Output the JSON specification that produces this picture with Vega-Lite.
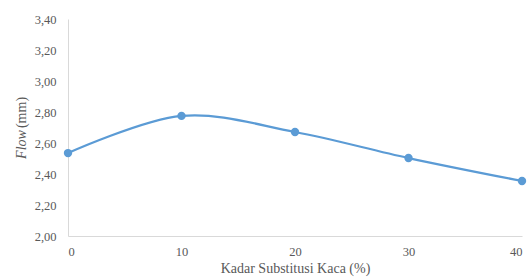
{
  "$schema": "https://vega.github.io/schema/vega-lite/v6.json",
  "autosize": "none",
  "width": 454,
  "height": 217,
  "padding": {"left": 68, "top": 19, "right": 7, "bottom": 41},
  "background": "white",
  "config": {"view": {"stroke": null}, "font": "Liberation Serif", "axis": {"labelFont": "Liberation Serif", "titleFont": "Liberation Serif"}},
  "data": {"values": [
    {"kadar": 0, "flow": 2.535},
    {"kadar": 10, "flow": 2.775},
    {"kadar": 20, "flow": 2.671},
    {"kadar": 30, "flow": 2.503},
    {"kadar": 40, "flow": 2.355}
  ]},
  "resolve": {"scale": {"y": "shared"}, "axis": {"y": "independent"}},
  "layer": [
    {
      "mark": {"type": "line", "interpolate": "cardinal", "color": "#5B9BD5", "strokeWidth": 2.25},
      "encoding": {
        "x": {"field": "kadar", "type": "quantitative",
          "scale": {"domain": [0, 40], "nice": false},
          "axis": {"values": [0, 10, 20, 30, 40], "title": "Kadar Substitusi Kaca (%)", "grid": false, "ticks": false,
            "domainColor": "#D9D9D9", "labelColor": "#595959", "labelFontSize": 12.5, "labelPadding": 9,
            "titleColor": "#595959", "titleFontSize": 14, "titleFontWeight": "normal", "titlePadding": 4}},
        "y": {"field": "flow", "type": "quantitative",
          "scale": {"domain": [2.0, 3.4], "nice": false, "zero": false},
          "axis": {"values": [2.0, 2.2, 2.4, 2.6, 2.8, 3.0, 3.2, 3.4], "labelExpr": "replace(format(datum.value, '.2f'), '.', ',')",
            "title": "(mm)", "grid": false, "ticks": false,
            "domainColor": "#D9D9D9", "labelColor": "#595959", "labelFontSize": 12.5, "labelPadding": 12,
            "titleColor": "#595959", "titleFontSize": 14, "titleFontWeight": "normal",
            "titleX": -47, "titleY": 93, "titleBaseline": "middle", "titleAngle": 270, "titleAlign": "center"}}
      }
    },
    {
      "mark": {"type": "point", "filled": true, "opacity": 1, "color": "#5B9BD5", "size": 70},
      "encoding": {
        "x": {"field": "kadar", "type": "quantitative"},
        "y": {"field": "flow", "type": "quantitative",
          "axis": {"orient": "right", "labels": false, "domain": false, "ticks": false, "grid": false,
            "title": "Flow", "titleFontStyle": "italic", "titleColor": "#595959", "titleFontSize": 14, "titleFontWeight": "normal",
            "titleX": -501, "titleY": 125, "titleBaseline": "middle", "titleAngle": 270, "titleAlign": "center"}}
      }
    }
  ]
}
